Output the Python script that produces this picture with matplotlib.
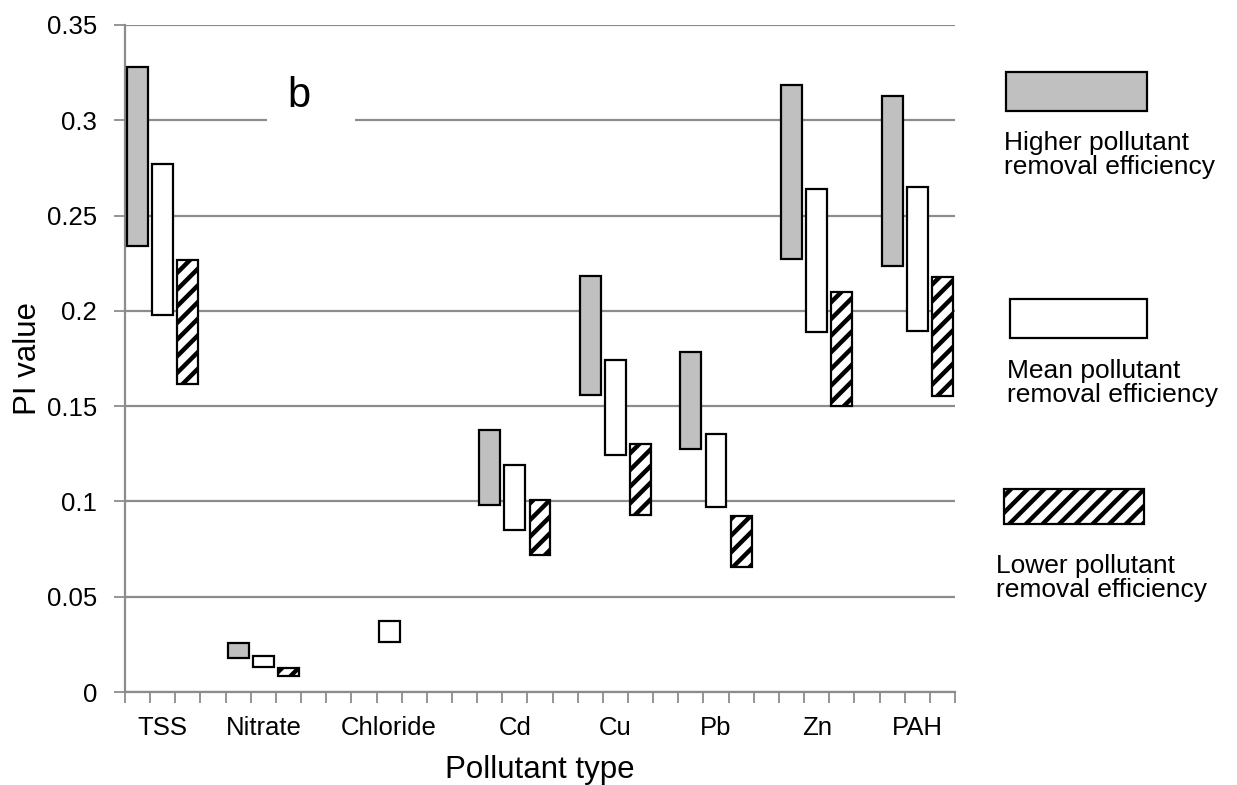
import numpy as np
import matplotlib
matplotlib.use("Agg")
import matplotlib.pyplot as plt
from matplotlib.patches import Rectangle

plt.rcParams['font.family'] = ['Liberation Sans', 'DejaVu Sans']
plt.rcParams['hatch.linewidth'] = 3.2

# data (low / high end of each floating bar)
pollutants = ['TSS', 'Nitrate', 'Chloride', 'Cd', 'Cu', 'Pb', 'Zn', 'PAH']
higher_low = [0.234, 0.018, np.nan, 0.0981, 0.1558, 0.1273, 0.2274, 0.2233]
higher_high = [0.328, 0.0255, np.nan, 0.1375, 0.2184, 0.1784, 0.3187, 0.3127]
mean_low = [0.198, 0.0133, 0.0264, 0.0848, 0.1242, 0.0969, 0.1887, 0.1894]
mean_high = [0.277, 0.019, 0.0374, 0.119, 0.1742, 0.1354, 0.2641, 0.265]
lower_low = [0.1616, 0.0086, np.nan, 0.0717, 0.0927, 0.0658, 0.1499, 0.1555]
lower_high = [0.2267, 0.0128, np.nan, 0.1006, 0.1301, 0.0923, 0.2097, 0.2176]
legend_labels = ['Higher pollutant\nremoval efficiency',
                 'Mean pollutant\nremoval efficiency',
                 'Lower pollutant\nremoval efficiency']

# category slots: 3 bars per group, blank slot between groups (chloride sits one slot later)
gaps = [0, 1, 2, 2, 1, 1, 1, 1]
starts = np.cumsum([3 * (i > 0) + g for i, g in enumerate(gaps)])
n_slots = starts[-1] + 3

W, H = 1237, 785
fig = plt.figure(figsize=(W / 100, H / 100), dpi=100)
ax = fig.add_axes([125 / W, 1 - 692 / H, 830 / W, 667 / H])

grid_col = '#8c8c8c'
bw = 0.83
series = [
    (higher_low, higher_high, dict(facecolor='#c0c0c0', hatch=None)),
    (mean_low, mean_high, dict(facecolor='white', hatch=None)),
    (lower_low, lower_high, dict(facecolor='white', hatch='//')),
]
for k, (lo, hi, style) in enumerate(series):
    lo = np.array(lo)
    hi = np.array(hi)
    ax.bar(starts + k, hi - lo, bottom=lo, width=bw, edgecolor='black',
           linewidth=1.6, zorder=3, **style)

ax.set_xlim(-0.5, n_slots - 0.5)
ax.set_ylim(0, 0.35)
ax.set_yticks(np.arange(0, 0.351, 0.05))
ax.set_yticklabels(['0', '0.05', '0.1', '0.15', '0.2', '0.25', '0.3', '0.35'])
ax.yaxis.grid(True, color=grid_col, linewidth=1.6, zorder=0)
ax.set_axisbelow(True)

ax.set_xticks(starts + 1)
ax.set_xticklabels(pollutants)
ax.set_xticks(np.arange(-0.5, n_slots, 1.0), minor=True)
ax.tick_params(axis='x', which='major', length=0, pad=17, labelsize=18.5)
ax.tick_params(axis='x', which='minor', length=8, width=1.3, color=grid_col)
ax.tick_params(axis='y', length=8, width=1.3, color=grid_col, pad=12, labelsize=18.5)

for s in ['top', 'right']:
    ax.spines[s].set_visible(False)
for s in ['left', 'bottom']:
    ax.spines[s].set_color(grid_col)
    ax.spines[s].set_linewidth(1.6)

ax.set_xlabel('Pollutant type', fontsize=22.5, labelpad=11)
ax.set_ylabel('PI value', fontsize=22.5, labelpad=3)

ax.text(5.98, 0.313, 'b  ', fontsize=30, ha='left', va='center', zorder=4,
        bbox=dict(boxstyle='square,pad=0.5', facecolor='white', edgecolor='none'))

# legend drawn as boxes with text underneath
def fig_xy(x, y):
    return x / W, 1 - y / H

boxes = [(1006, 111, 141, 39), (1010, 338, 137, 39), (1004, 524, 140, 35)]
text_pos = [(1004, 155), (1007, 383), (996, 578)]
for (bx, by, bwid, bh), (tx, ty), (_, _, style), lab in zip(boxes, text_pos, series, legend_labels):
    x0, y0 = fig_xy(bx, by)
    fig.patches.append(Rectangle((x0, y0), bwid / W, bh / H, transform=fig.transFigure,
                                 facecolor=style['facecolor'], hatch=style['hatch'],
                                 edgecolor='black', linewidth=1.6))
    fx, fy = fig_xy(tx, ty)
    fig.text(fx, fy, lab, fontsize=19, ha='left', va='center', linespacing=1.05)

fig.savefig('out.png', dpi=100)
